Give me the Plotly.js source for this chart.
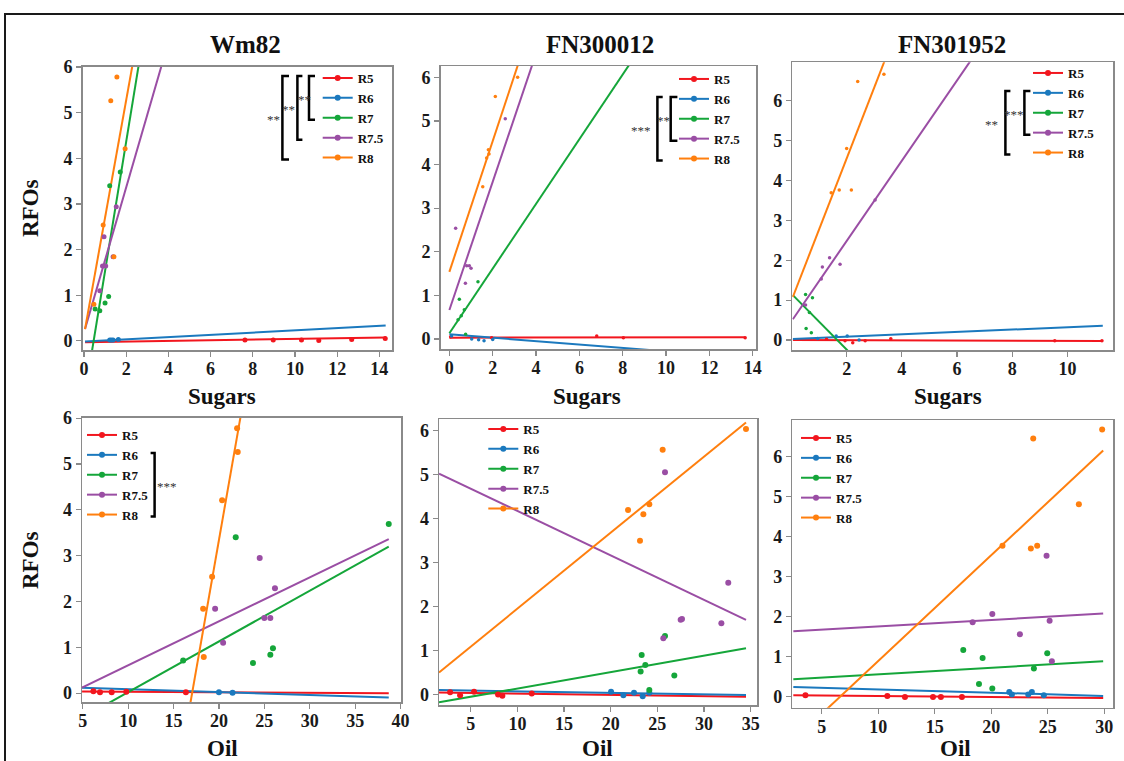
<!DOCTYPE html>
<html><head><meta charset="utf-8">
<script src="https://cdn.plot.ly/plotly-3.0.1.min.js"></script>
<style>html,body{margin:0;padding:0;background:#fff}#chart{width:1124px;height:761px}</style>
</head><body><div id="chart"></div>
<script>
// ---------------- data ----------------
const seriesNames = ['R5', 'R6', 'R7', 'R7.5', 'R8'];
const genotypes = ['Wm82', 'FN300012', 'FN301952'];

// Wm82 – Sugars (x) vs RFOs (y), one inner array per series R5..R8
const wm82SugarsX = [
  [7.63, 8.97, 10.31, 11.13, 12.69, 14.28],
  [1.22, 1.30, 1.38, 1.63],
  [0.53, 0.75, 1.00, 1.17, 1.22, 1.72],
  [0.75, 0.88, 0.95, 1.03, 1.38, 1.53],
  [0.47, 0.91, 1.27, 1.42, 1.56, 1.95]
];
const wm82SugarsRFO = [
  [0.02, 0.02, 0.02, 0.01, 0.03, 0.05],
  [0.02, 0.02, 0.02, 0.03],
  [0.70, 0.66, 0.83, 0.97, 3.40, 3.70],
  [1.10, 1.64, 2.28, 1.64, 1.84, 2.94],
  [0.80, 2.54, 5.26, 1.84, 5.78, 4.21]
];
const wm82SugarsSlope = [0.0072, 0.0245, 2.83, 1.59, 2.57];
const wm82SugarsIntercept = [-0.03, -0.016, -1.30, 0.18, 0.13];
const wm82SugarsFitRange = [0.05, 14.3];

// FN300012 – Sugars
const fn300012SugarsX = [
  [0.06, 1.95, 6.80, 8.03, 13.65],
  [0.10, 1.03, 1.35, 1.60, 2.00],
  [0.40, 0.46, 0.55, 0.69, 0.75, 1.32],
  [0.29, 0.74, 0.80, 0.92, 1.00, 2.58],
  [1.54, 1.72, 1.80, 1.83, 2.12, 3.15]
];
const fn300012SugarsRFO = [
  [0.05, 0.03, 0.07, 0.03, 0.03],
  [0.07, 0.00, -0.02, -0.04, -0.01],
  [0.44, 0.91, 0.53, 0.67, 0.11, 1.31],
  [2.54, 1.28, 1.68, 1.68, 1.62, 5.05],
  [3.49, 4.15, 4.34, 4.24, 5.56, 6.00]
];
const fn300012SugarsSlope = [0.0005, -0.039, 0.742, 1.47, 1.50];
const fn300012SugarsIntercept = [0.03, 0.107, 0.13, 0.665, 1.54];
const fn300012SugarsFitRange = [0.0, 13.65];

// FN301952 – Sugars
const fn301952SugarsX = [
  [1.27, 1.94, 2.22, 2.67, 3.60, 9.54, 11.25],
  [0.95, 1.62, 2.02, 2.45],
  [0.51, 0.53, 0.65, 0.72, 0.76],
  [0.51, 1.08, 1.12, 1.38, 1.76, 3.03],
  [1.44, 1.73, 2.00, 2.17, 2.40, 3.35]
];
const fn301952SugarsRFO = [
  [0.02, -0.02, -0.07, -0.02, 0.03, -0.02, -0.02],
  [0.04, 0.10, 0.10, 0.00],
  [1.14, 0.29, 0.69, 0.18, 1.06],
  [0.88, 1.53, 1.83, 2.06, 1.90, 3.51],
  [3.69, 3.76, 4.80, 3.76, 6.48, 6.66]
];
const fn301952SugarsSlope = [-0.002, 0.0298, -0.70, 1.006, 1.78];
const fn301952SugarsIntercept = [0.0, 0.024, 1.16, 0.47, 0.99];
const fn301952SugarsFitRange = [0.05, 11.28];

// Wm82 – Oil
const wm82OilX = [
  [6.17, 6.90, 8.19, 9.80, 16.36],
  [20.0, 21.5],
  [16.06, 21.85, 23.75, 25.66, 25.95, 38.7],
  [19.58, 20.46, 24.49, 25.00, 25.66, 26.17],
  [18.26, 18.33, 19.25, 20.35, 22.07, 22.00]
];
const wm82OilRFO = [
  [0.04, 0.02, 0.02, 0.03, 0.02],
  [0.02, 0.01],
  [0.71, 3.40, 0.66, 0.84, 0.98, 3.69],
  [1.84, 1.10, 2.95, 1.64, 1.64, 2.29],
  [1.84, 0.79, 2.54, 4.21, 5.26, 5.78]
];
const wm82OilSlope = [-0.00107, -0.00637, 0.1107, 0.0959, 1.131];
const wm82OilIntercept = [0.041, 0.151, -1.086, -0.353, -19.28];
const wm82OilFitRange = [4.93, 38.7];

// FN300012 – Oil
const fn300012OilX = [
  [2.79, 3.86, 5.36, 7.93, 8.39, 11.54],
  [20.04, 21.36, 22.50, 23.43, 24.14],
  [23.21, 23.32, 23.71, 24.14, 25.82, 26.82],
  [25.64, 25.82, 27.50, 27.64, 31.86, 32.60],
  [21.86, 23.14, 23.50, 24.14, 25.57, 34.50]
];
const fn300012OilRFO = [
  [0.05, -0.02, 0.06, 0.00, -0.03, 0.02],
  [0.06, -0.02, 0.04, -0.04, 0.04],
  [0.52, 0.90, 0.67, 0.10, 1.33, 0.43],
  [1.28, 5.06, 1.70, 1.72, 1.62, 2.54],
  [4.20, 3.50, 4.10, 4.33, 5.57, 6.04]
];
const fn300012OilSlope = [-0.003, -0.0035, 0.0374, -0.1012, 0.173];
const fn300012OilIntercept = [0.05, 0.1056, -0.24, 5.19, 0.223];
const fn300012OilFitRange = [1.6, 34.5];

// FN301952 – Oil
const fn301952OilX = [
  [3.56, 10.81, 12.37, 14.85, 15.55, 17.41],
  [21.60, 21.83, 23.28, 23.60, 24.66],
  [17.53, 18.92, 19.24, 20.10, 23.78, 24.96],
  [18.36, 20.10, 22.54, 24.90, 25.17, 25.37],
  [21.00, 23.51, 23.72, 24.07, 27.76, 29.82]
];
const fn301952OilRFO = [
  [0.04, 0.025, 0.00, 0.00, 0.00, 0.00],
  [0.12, 0.06, 0.06, 0.12, 0.04],
  [1.17, 0.32, 0.97, 0.21, 0.71, 1.09],
  [1.86, 2.07, 1.56, 3.52, 1.90, 0.89],
  [3.77, 3.70, 6.45, 3.77, 4.81, 6.67]
];
const fn301952OilSlope = [-0.00237, -0.0082, 0.0164, 0.016, 0.264];
const fn301952OilIntercept = [0.046, 0.27, 0.399, 1.60, -1.746];
const fn301952OilFitRange = [2.49, 29.91];

// ---------------- styling / layout ----------------
const W = 1124, H = 761;
const seriesColors = ['#F2161E', '#1B79BE', '#15A63A', '#9A4EA4', '#FF7F0E'];
const FONT = '"Liberation Serif", "DejaVu Serif", serif';

const panels = [
  {x: wm82SugarsX, y: wm82SugarsRFO, m: wm82SugarsSlope, b: wm82SugarsIntercept, fit: wm82SugarsFitRange},
  {x: fn300012SugarsX, y: fn300012SugarsRFO, m: fn300012SugarsSlope, b: fn300012SugarsIntercept, fit: fn300012SugarsFitRange},
  {x: fn301952SugarsX, y: fn301952SugarsRFO, m: fn301952SugarsSlope, b: fn301952SugarsIntercept, fit: fn301952SugarsFitRange},
  {x: wm82OilX, y: wm82OilRFO, m: wm82OilSlope, b: wm82OilIntercept, fit: wm82OilFitRange},
  {x: fn300012OilX, y: fn300012OilRFO, m: fn300012OilSlope, b: fn300012OilIntercept, fit: fn300012OilFitRange},
  {x: fn301952OilX, y: fn301952OilRFO, m: fn301952OilSlope, b: fn301952OilIntercept, fit: fn301952OilFitRange}
];

// pixel boxes of the plot areas and axis ranges
const frames = [
  {l: 82.7, r: 392, t: 66.7, b: 350, xr: [-0.06, 14.6], yr: [-0.2, 6.005], dx: 2, ms: 5},
  {l: 440.7, r: 756, t: 66, b: 349, xr: [-0.4, 14.15], yr: [-0.23, 6.26], dx: 2, ms: 3.5},
  {l: 792.3, r: 1113, t: 62.3, b: 350, xr: [0.03, 11.65], yr: [-0.25, 6.96], dx: 2, ms: 3.5},
  {l: 82, r: 401, t: 417.7, b: 702.3, xr: [4.92, 40.05], yr: [-0.2, 6.01], dx: 5, ms: 6},
  {l: 439, r: 757, t: 419, b: 705, xr: [1.6, 35.68], yr: [-0.24, 6.27], dx: 5, ms: 6},
  {l: 792.3, r: 1113, t: 420, b: 707.7, xr: [2.4, 30.78], yr: [-0.27, 6.91], dx: 5, ms: 6}
];
// legend: text left x (px) and first-entry centre y (px)
const legendPos = [
  {tx: 357.7, cy: 78}, {tx: 714, cy: 79}, {tx: 1068, cy: 73},
  {tx: 122, cy: 435}, {tx: 523.3, cy: 429}, {tx: 836, cy: 438}
];
const ITEM = 19.9;

const px = v => v / W;
const py = v => 1 - v / H;

const traces = [];
const layout = {
  width: W, height: H,
  margin: {l: 0, r: 0, t: 0, b: 0},
  paper_bgcolor: '#ffffff', plot_bgcolor: '#ffffff',
  showlegend: true,
  font: {family: FONT, color: '#111'},
  annotations: [], shapes: []
};

panels.forEach((p, i) => {
  const f = frames[i];
  const xa = i === 0 ? 'x' : 'x' + (i + 1);
  const ya = i === 0 ? 'y' : 'y' + (i + 1);
  const xKey = i === 0 ? 'xaxis' : 'xaxis' + (i + 1);
  const yKey = i === 0 ? 'yaxis' : 'yaxis' + (i + 1);
  const legKey = i === 0 ? 'legend' : 'legend' + (i + 1);
  const common = {
    showline: true, mirror: true, linecolor: '#8a8a8a', linewidth: 1.5,
    ticks: 'outside', ticklen: 5, tickwidth: 1.2, tickcolor: '#8a8a8a',
    showgrid: false, zeroline: false, fixedrange: true,
    tickfont: {family: FONT, size: 18, color: '#1a1a1a', weight: 'bold'}
  };
  layout[xKey] = Object.assign({}, common, {
    domain: [px(f.l), px(f.r)], range: f.xr, anchor: ya, tick0: 0, dtick: f.dx,
    ticklabelstandoff: -3
  });
  layout[yKey] = Object.assign({}, common, {
    domain: [py(f.b), py(f.t)], range: f.yr, anchor: xa, tick0: 0, dtick: 1
  });
  const lp = legendPos[i];
  layout[legKey] = {
    x: px(lp.tx - 40), y: py(lp.cy - 15), xanchor: 'left', yanchor: 'top',
    bgcolor: 'rgba(0,0,0,0)', borderwidth: 0, itemwidth: 30,
    font: {family: FONT, size: 13, color: '#111', weight: 'bold'}
  };

  seriesNames.forEach((name, s) => {
    traces.push({
      type: 'scatter', mode: 'lines', name: name, showlegend: false,
      xaxis: xa, yaxis: ya,
      x: [p.fit[0], p.fit[1]],
      y: [p.b[s] + p.m[s] * p.fit[0], p.b[s] + p.m[s] * p.fit[1]],
      line: {color: seriesColors[s], width: 2}, hoverinfo: 'skip'
    });
  });
  seriesNames.forEach((name, s) => {
    traces.push({
      type: 'scatter', mode: 'markers', name: name, showlegend: false,
      xaxis: xa, yaxis: ya, x: p.x[s], y: p.y[s],
      marker: {color: seriesColors[s], size: f.ms}
    });
  });
  seriesNames.forEach((name, s) => {
    traces.push({
      type: 'scatter', mode: 'lines+markers', name: name, legend: legKey,
      xaxis: xa, yaxis: ya, x: [null], y: [null],
      line: {color: seriesColors[s], width: 2}, marker: {color: seriesColors[s], size: 6}
    });
  });
});

// titles and axis labels
const ann = (x, y, text, size, extra) => Object.assign({
  xref: 'paper', yref: 'paper', x: px(x), y: py(y), text: text, showarrow: false,
  xanchor: 'center', yanchor: 'middle',
  font: {family: FONT, size: size, color: '#111', weight: 'bold'}
}, extra || {});
[[245, 45], [600, 45], [952, 45]].forEach((c, i) => layout.annotations.push(ann(c[0], c[1], genotypes[i], 25)));
[[222, 396], [587, 396], [948, 396]].forEach(c => layout.annotations.push(ann(c[0], c[1], 'Sugars', 23)));
[[222, 748], [597, 748], [955, 748]].forEach(c => layout.annotations.push(ann(c[0], c[1], 'Oil', 23)));
[[30, 208], [30, 560]].forEach(c => layout.annotations.push(ann(c[0], c[1], 'RFOs', 23, {textangle: -90})));

// significance brackets: [panel, fromItem, toItem, verticalX, tickEndX, label, labelX]
const brackets = [
  [0, 0, 2, 309, 315, '**', 304],
  [0, 0, 3, 297.4, 302.4, '**', 288.4],
  [0, 0, 4, 282.4, 289, '**', 273.7],
  [1, 1, 3, 670.7, 677.4, '**', 663.7],
  [1, 1, 4, 657.4, 662.7, '***', 640.7],
  [2, 1, 3, 1024.4, 1030.4, '***', 1013.7],
  [2, 1, 4, 1005.4, 1010.4, '**', 991.7],
  [3, 1, 4, 154.6, 150.6, '***', 167.3]
];
brackets.forEach(bk => {
  const lp = legendPos[bk[0]];
  const y0 = lp.cy + bk[1] * ITEM - 2;
  const y1 = lp.cy + bk[2] * ITEM + 2;
  layout.shapes.push({
    type: 'path', xref: 'paper', yref: 'paper',
    path: `M${px(bk[4])},${py(y0)} L${px(bk[3])},${py(y0)} L${px(bk[3])},${py(y1)} L${px(bk[4])},${py(y1)}`,
    line: {color: '#000', width: 2.5}
  });
  layout.annotations.push({
    xref: 'paper', yref: 'paper', x: px(bk[6]), y: py((y0 + y1) / 2 + 2), text: bk[5],
    showarrow: false, xanchor: 'center', yanchor: 'middle',
    font: {family: FONT, size: 13, color: '#333'}
  });
});

// outer figure frame
layout.shapes.push({
  type: 'rect', xref: 'paper', yref: 'paper',
  x0: px(5), x1: px(1130), y0: py(770), y1: py(14),
  line: {color: '#1a1a1a', width: 2}
});

Plotly.newPlot('chart', traces, layout, {displayModeBar: false, staticPlot: true});
</script>
</body></html>
